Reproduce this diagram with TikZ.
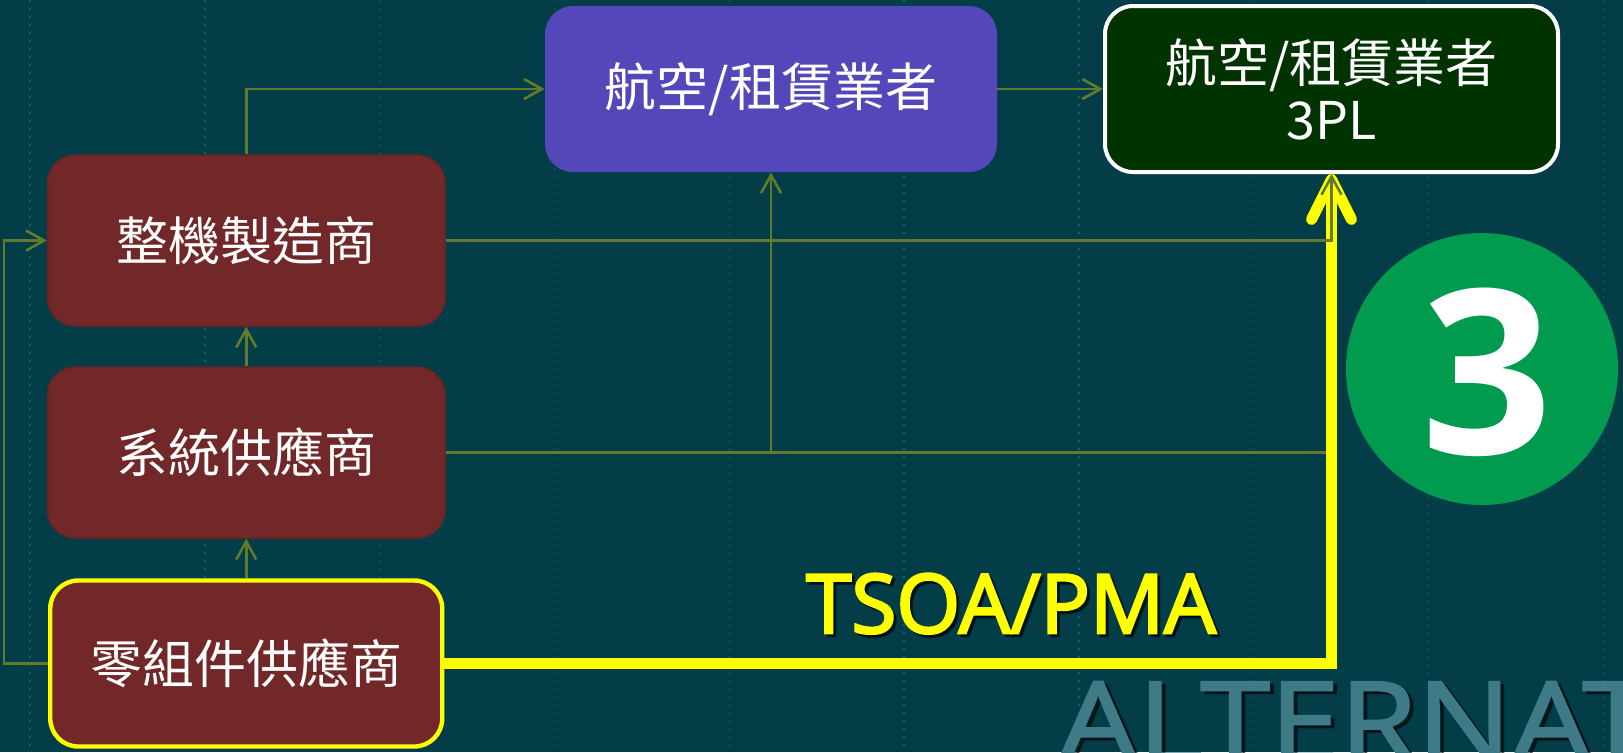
\documentclass[tikz,border=0pt]{standalone}
\usepackage{fontspec}
\setmainfont{Open Sans}
\newfontfamily\cjk{Noto Sans CJK TC}
\newfontfamily\semib{Open Sans}[FakeBold=3]
\newfontfamily\altfont{Open Sans}[FakeBold=2,FakeStretch=1.12]
\usetikzlibrary{arrows.meta}
\definecolor{bg}{RGB}{3,62,72}
\definecolor{gridc}{RGB}{16,98,108}
\definecolor{boxred}{RGB}{114,40,41}
\definecolor{boxredline}{RGB}{104,36,37}
\definecolor{boxpurple}{RGB}{84,71,186}
\definecolor{boxdark}{RGB}{0,51,0}
\definecolor{olivec}{RGB}{98,122,44}
\definecolor{yel}{RGB}{255,255,0}
\definecolor{greenc}{RGB}{0,155,78}
\definecolor{altc}{RGB}{62,123,135}
\tikzset{
  box/.style={rounded corners=14pt, inner sep=0pt, text=white, align=center,
    font=\cjk\fontsize{26pt}{31.5pt}\selectfont},
  redbox/.style={box, fill=boxred, draw=boxredline, line width=0.75pt,
    minimum width=198.75pt, minimum height=85.5pt},
  conn/.style={draw=olivec, line width=1.3pt, -{Straight Barb[length=9pt,width=10pt]}},
  ybig/.style={draw=yel, line width=5.5pt, -{Straight Barb[round,length=20pt,width=20pt]}},
  gridline/.style={draw=gridc, line width=0.7pt, dash pattern=on 1pt off 3pt},
}
\begin{document}
\begin{tikzpicture}[x=0.5pt,y=-0.5pt]
\useasboundingbox (0,0) rectangle (1623,752);
\fill[bg] (0,0) rectangle (1623,752);
\foreach \i in {0,...,9}{
  \draw[gridline] ({30+174.8*\i},0) -- ({30+174.8*\i},752);
}
% boxes
\node[redbox] (A) at (246.25,240.5) {整機製造商};
\node[redbox] (B) at (246.25,452.5) {系統供應商};
\node[redbox, draw=yel, line width=2.2pt, minimum width=196pt, minimum height=83pt] (C) at (246.25,663.5) {零組件供應商};
\node[box, fill=boxpurple, minimum width=226pt, minimum height=83pt] (D) at (771,89) {航空/租賃業者};
\node[box, fill=boxdark, draw=white, line width=2pt, minimum width=226.5pt, minimum height=83pt] (E) at (1331.5,89) {航空/租賃業者\\[-3pt]3PL};
\coordinate (fb) at (4,663.5);
% connectors under the yellow line
\draw[conn] (B.east) -| (E.south);
\draw[conn] (B.east) -| (D.south);
% yellow main path
\draw[ybig] (C.east) -| (E.south);
% other connectors
\draw[conn] (A.north) |- (D.west);
\draw[conn] (D.east) -- (E.west);
\draw[conn] (A.east) -| (E.south);
\draw[conn] (B.north) -- (A.south);
\draw[conn] (C.north) -- (B.south);
\draw[conn] (C.west) -- (fb) |- (A.west);
% numbered circle
\fill[greenc] (1482,369) circle[radius=68pt];
\node[text=white, inner sep=0pt, font=\bfseries\fontsize{115pt}{115pt}\selectfont] (three) at (1487,372) {3};
% labels
\node[anchor=base, text=black, opacity=0.55, inner sep=0pt, font=\semib\fontsize{41pt}{41pt}\selectfont] (tsoash) at (1014,636) {TSOA/PMA};
\node[anchor=base, text=yel, inner sep=0pt, font=\semib\fontsize{41pt}{41pt}\selectfont] (tsoa) at (1011,633) {TSOA/PMA};
\begin{scope}
\clip (0,0) rectangle (1623,752);
\node[anchor=base west, text=black, opacity=0.5, inner sep=0pt, font=\altfont\fontsize{56pt}{56pt}\selectfont] (altsh) at (1062,765) {ALTERNATIVE};
\node[anchor=base west, text=altc, inner sep=0pt, font=\altfont\fontsize{56pt}{56pt}\selectfont] (alt) at (1058,762) {ALTERNATIVE};
\end{scope}
\end{tikzpicture}
\end{document}
